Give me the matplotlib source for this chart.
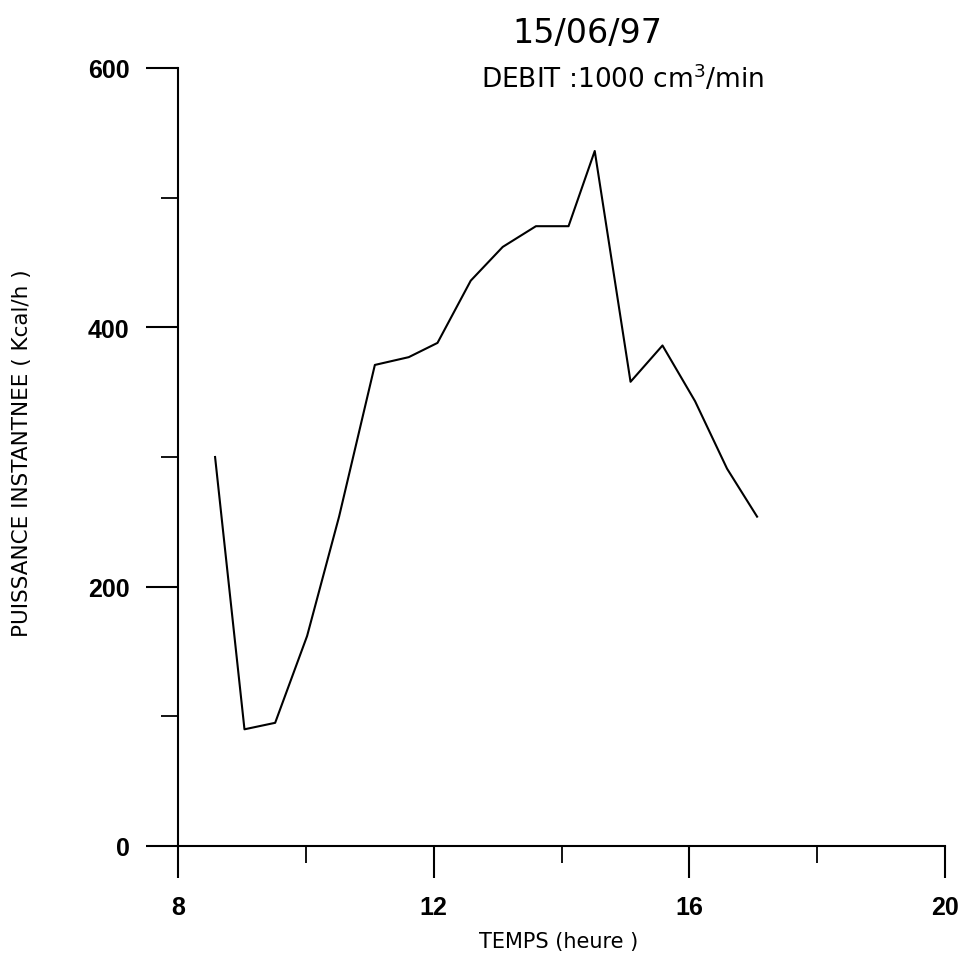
import matplotlib
matplotlib.use("Agg")
import matplotlib.pyplot as plt
from matplotlib.ticker import MultipleLocator

# =============================================================================
# Data
# =============================================================================

temps = [8.58, 9.04, 9.52, 10.02, 10.52, 11.08, 11.61, 12.06, 12.58,
         13.08, 13.60, 14.11, 14.52, 15.08, 15.58, 16.09, 16.59, 17.06]
puissance = [300, 90, 95, 162, 254, 371, 377, 388, 436,
             462, 478, 478, 536, 358, 386, 343, 291, 254]

x_major = [8, 12, 16, 20]
y_major = [0, 200, 400, 600]

# =============================================================================
# Plot
# =============================================================================

plt.rcParams["font.family"] = "DejaVu Sans"

W, H = 966, 962
fig = plt.figure(figsize=(W / 100, H / 100), dpi=100)
ax = fig.add_axes([178 / W, 1 - 847 / H, (945 - 178) / W, (847 - 69) / H])

ax.plot(temps, puissance, color="black", linewidth=1.5)

ax.set_xlim(8, 20)
ax.set_ylim(0, 600)
ax.set_xticks(x_major)
ax.set_yticks(y_major)
ax.set_xticklabels([str(v) for v in x_major], family="Liberation Sans",
                   fontweight="bold", fontsize=18)
ax.set_yticklabels([str(v) for v in y_major], family="Liberation Sans",
                   fontweight="bold", fontsize=18)
ax.xaxis.set_minor_locator(MultipleLocator(2))
ax.yaxis.set_minor_locator(MultipleLocator(100))

for side in ("top", "right"):
    ax.spines[side].set_visible(False)
for side in ("left", "bottom"):
    ax.spines[side].set_linewidth(1.5)

ax.tick_params(which="major", direction="out", length=23, width=1.5, pad=12)
ax.tick_params(which="minor", direction="out", length=12, width=1.3)

fig.text(587 / W, 1 - 33 / H, "15/06/97", fontsize=24,
         ha="center", va="center")
fig.text(623 / W, 1 - 79 / H, "DEBIT :1000 cm$^{3}$/min", fontsize=19,
         ha="center", va="center")
fig.text(559 / W, 1 - 942 / H, "TEMPS (heure )", fontsize=15,
         ha="center", va="center")
fig.text(22 / W, 1 - 453 / H, "PUISSANCE INSTANTNEE ( Kcal/h )",
         fontsize=15.5, rotation=90, ha="center", va="center")

fig.savefig("out.png", dpi=100, facecolor="white")
